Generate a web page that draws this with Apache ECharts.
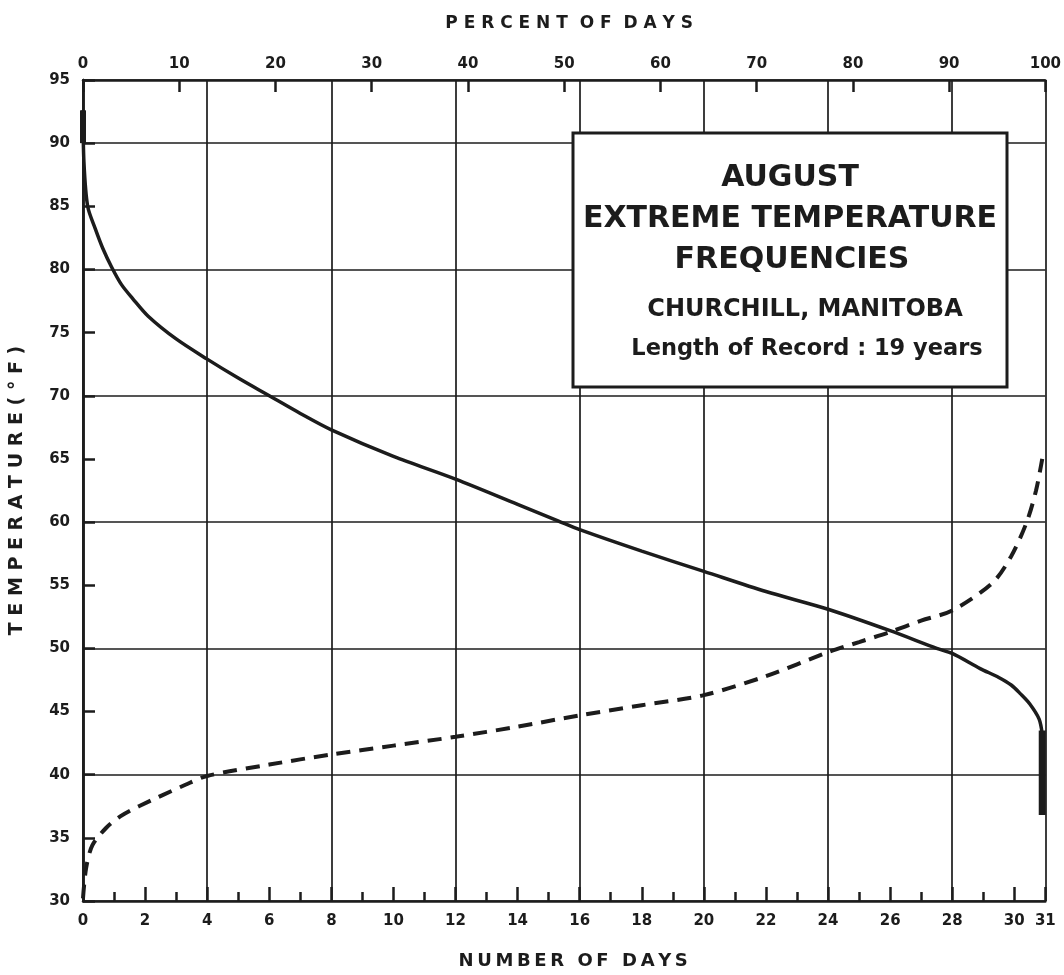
<!DOCTYPE html>
<html>
<head>
<meta charset="utf-8">
<script src="https://cdn.jsdelivr.net/npm/echarts@6/dist/echarts.min.js"></script>
<style>
html,body{margin:0;padding:0;background:#fff;}
#chart{width:1064px;height:975px;}
</style>
</head>
<body>
<div id="chart"></div>
<script>
// Maximum temperature curve (solid): days vs °F
const maxDays  = [0, 0.03, 0.15, 0.4, 0.65, 0.92, 1.24, 1.6, 2.1, 3, 4, 5, 6, 7, 8, 10, 12, 14, 15.3, 16, 18, 20, 22, 24, 26, 27.5, 28, 28.9, 29.5, 29.9, 30.2, 30.5, 30.8, 30.9];
const maxTemps = [92.6, 88.5, 85, 83.2, 81.6, 80.2, 78.8, 77.7, 76.3, 74.5, 72.9, 71.4, 70.0, 68.6, 67.3, 65.2, 63.4, 61.4, 60.1, 59.4, 57.7, 56.1, 54.5, 53.1, 51.4, 50, 49.6, 48.4, 47.7, 47.1, 46.4, 45.6, 44.4, 43.2];
// Thick end segments of the solid curve
const maxTopDays = [0, 0];
const maxTopTemps = [92.6, 90];
const maxEndDays = [30.9, 30.9];
const maxEndTemps = [43.5, 36.8];
// Minimum temperature curve (dashed)
const minDays  = [0, 0.1, 0.3, 0.75, 1.2, 1.8, 3.3, 4, 6, 8, 10, 12, 14, 16, 18, 20, 22, 24, 25, 26, 27, 28, 29.3, 29.9, 30.4, 30.7, 30.9];
const minTemps = [30.2, 32.6, 34.4, 35.8, 36.7, 37.5, 39.2, 39.9, 40.8, 41.6, 42.3, 43.0, 43.8, 44.7, 45.5, 46.3, 47.8, 49.7, 50.5, 51.3, 52.2, 53.0, 55.2, 57.3, 60, 62.5, 65];
// Axis ranges
const dayMin = 0, dayMax = 31;
const tempMin = 30, tempMax = 95;
const pctMin = 0, pctMax = 100;
const titleLines = ['AUGUST', 'EXTREME TEMPERATURE', 'FREQUENCIES', 'CHURCHILL, MANITOBA', 'Length of Record : 19 years'];

const zip = (a, b) => a.map((v, i) => [v, b[i]]);
const INK = '#1c1c1c';
const FONT = '"DejaVu Sans", "Liberation Sans", Arial, sans-serif';
const lblStyle = {color: INK, fontFamily: FONT, fontWeight: 'bold', fontSize: 15};
const TS = '\u2009';

const chart = echarts.init(document.getElementById('chart'), null, {renderer: 'canvas'});
const grid = {left: 82, right: 18, top: 80, bottom: 62};

chart.setOption({
  backgroundColor: '#ffffff',
  animation: false,
  grid: grid,
  xAxis: [
    { type: 'value', min: dayMin, max: dayMax, interval: 2, position: 'bottom',
      name: ['NUMBER', 'OF', 'DAYS'].map(w => w.split('').join(TS)).join(' ' + TS + TS),
      nameLocation: 'middle', nameGap: 51,
      nameTextStyle: {color: INK, fontFamily: FONT, fontWeight: 'bold', fontSize: 18, padding: [0, 0, 0, 18]},
      axisLine: {show: true, lineStyle: {color: INK, width: 2.5}},
      axisTick: {show: true, inside: true, length: 14, lineStyle: {color: INK, width: 2.5}},
      axisLabel: Object.assign({margin: 13, showMaxLabel: true, showMinLabel: true}, lblStyle),
      splitLine: {show: false} },
    { type: 'value', min: dayMin, max: dayMax, interval: 1, position: 'bottom',
      axisLine: {show: false},
      axisTick: {show: true, inside: true, length: 9, lineStyle: {color: INK, width: 2.5}},
      axisLabel: {show: false}, splitLine: {show: false} },
    { type: 'value', min: dayMin, max: dayMax, interval: 4, position: 'bottom',
      axisLine: {show: false}, axisTick: {show: false}, axisLabel: {show: false},
      splitLine: {show: true, lineStyle: {color: INK, width: 1.7}} },
    { type: 'value', min: pctMin, max: pctMax, interval: 10, position: 'top',
      name: 'P E R C E N T  O F  D A Y S', nameLocation: 'middle', nameGap: 48,
      nameTextStyle: {color: INK, fontFamily: FONT, fontWeight: 'bold', fontSize: 17, padding: [0, 0, 0, 10]},
      axisLine: {show: true, lineStyle: {color: INK, width: 2.5}},
      axisTick: {show: true, inside: true, length: 12, lineStyle: {color: INK, width: 2.5}},
      axisLabel: Object.assign({margin: 8}, lblStyle),
      splitLine: {show: false} }
  ],
  yAxis: [
    { type: 'value', min: tempMin, max: tempMax, interval: 5, position: 'left',
      name: 'T E M P E R A T U R E ( ° F )', nameLocation: 'middle', nameGap: 56, nameRotate: 90,
      nameTextStyle: {color: INK, fontFamily: FONT, fontWeight: 'bold', fontSize: 19},
      axisLine: {show: true, lineStyle: {color: INK, width: 2.5}},
      axisTick: {show: true, inside: true, length: 12, lineStyle: {color: INK, width: 2.5}},
      axisLabel: Object.assign({margin: 13}, lblStyle),
      splitLine: {show: false} },
    { type: 'value', min: tempMin, max: tempMax, interval: 10, position: 'left',
      axisLine: {show: false}, axisTick: {show: false}, axisLabel: {show: false},
      splitLine: {show: true, lineStyle: {color: INK, width: 1.7}} },
    { type: 'value', min: tempMin, max: tempMax, position: 'right',
      axisLine: {show: true, lineStyle: {color: INK, width: 2.5}},
      axisTick: {show: false}, axisLabel: {show: false}, splitLine: {show: false} }
  ],
  series: [
    { type: 'line', name: 'max', xAxisIndex: 0, yAxisIndex: 0, data: zip(maxDays, maxTemps),
      smooth: 0.3, showSymbol: false, symbol: 'none', z: 5,
      lineStyle: {color: INK, width: 3.5} },
    { type: 'line', name: 'maxTop', xAxisIndex: 0, yAxisIndex: 0, data: zip(maxTopDays, maxTopTemps),
      showSymbol: false, symbol: 'none', z: 5, lineStyle: {color: INK, width: 6} },
    { type: 'line', name: 'maxEnd', xAxisIndex: 0, yAxisIndex: 0, data: zip(maxEndDays, maxEndTemps),
      showSymbol: false, symbol: 'none', z: 5, lineStyle: {color: INK, width: 7} },
    { type: 'line', name: 'min', xAxisIndex: 0, yAxisIndex: 0, data: zip(minDays, minTemps),
      smooth: 0.3, showSymbol: false, symbol: 'none', z: 5,
      lineStyle: {color: INK, width: 4, type: [14, 9]} }
  ],
  graphic: [
    { type: 'rect', z: 100, shape: {x: 573, y: 133, width: 434, height: 254},
      style: {fill: '#ffffff', stroke: INK, lineWidth: 3} },
    { type: 'text', z: 101, x: 790, y: 178, style: {text: titleLines[0], fill: INK, align: 'center', verticalAlign: 'middle', font: 'bold 30px ' + FONT} },
    { type: 'text', z: 101, x: 790, y: 219, style: {text: titleLines[1], fill: INK, align: 'center', verticalAlign: 'middle', font: 'bold 30px ' + FONT} },
    { type: 'text', z: 101, x: 792, y: 260, style: {text: titleLines[2], fill: INK, align: 'center', verticalAlign: 'middle', font: 'bold 30px ' + FONT} },
    { type: 'text', z: 101, x: 805, y: 310, style: {text: titleLines[3], fill: INK, align: 'center', verticalAlign: 'middle', font: 'bold 24px ' + FONT} },
    { type: 'text', z: 101, x: 807, y: 349, style: {text: titleLines[4], fill: INK, align: 'center', verticalAlign: 'middle', font: 'bold 22.5px ' + FONT} }
  ]
});
</script>
</body>
</html>
